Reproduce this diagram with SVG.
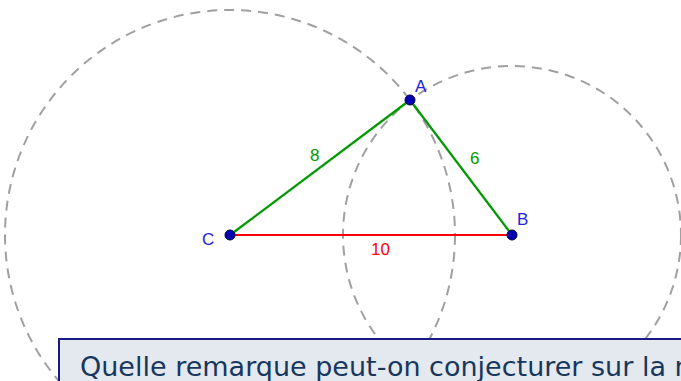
<svg xmlns="http://www.w3.org/2000/svg" width="681" height="381" viewBox="0 0 681 381">
<style>
.circ{fill:none;stroke:#a0a0a0;stroke-width:2;stroke-dasharray:10 7}
.seg{stroke-width:2.2;fill:none}
.pt{fill:#0000b0;stroke:#000044;stroke-width:1}
.lbl{font-family:"Liberation Sans",Arial,sans-serif;font-size:17px}
.pl{fill:#2222dd}
.sl{fill:#009900}
</style>
<rect width="681" height="381" fill="#ffffff"/>
<g id="circles">
<circle class="circ" cx="230" cy="235" r="225"/>
<circle class="circ" cx="512" cy="235" r="169"/>
</g>
<g id="connectors">
<line class="seg" x1="230" y1="235" x2="410" y2="100" stroke="#009900"/>
<line class="seg" x1="410" y1="100" x2="512" y2="235" stroke="#009900"/>
<line class="seg" x1="230" y1="235" x2="512" y2="235" stroke="#ff0000"/>
<text class="lbl sl" x="310" y="161">8</text>
<text class="lbl sl" x="470" y="164">6</text>
<text class="lbl" x="371" y="255" fill="#ff0000">10</text>
</g>
<g id="A"><circle class="pt" cx="410" cy="100" r="5"/><text class="lbl pl" x="415" y="92">A</text></g>
<g id="B"><circle class="pt" cx="512" cy="235" r="5"/><text class="lbl pl" x="517" y="225">B</text></g>
<g id="C"><circle class="pt" cx="230" cy="235" r="5"/><text class="lbl pl" x="202" y="245">C</text></g>
<g id="question">
<rect x="59" y="339" width="640" height="60" fill="#e4e9ef" stroke="#1a1a80" stroke-width="2"/>
<text x="80" y="376" font-family="DejaVu Sans,Verdana,sans-serif" font-size="27" fill="#17375e">Quelle remarque peut-on conjecturer sur la n</text>
</g>
</svg>
